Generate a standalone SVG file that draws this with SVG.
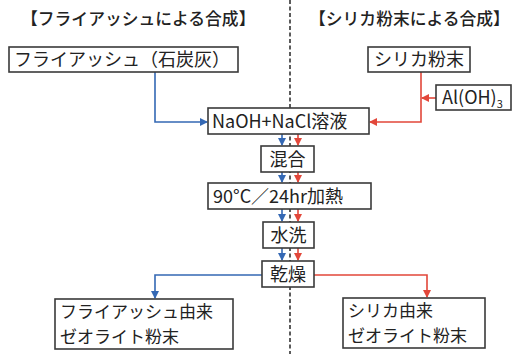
<svg xmlns="http://www.w3.org/2000/svg" width="517" height="354" viewBox="0 0 517 354">
<style>
  .box { fill: #ffffff; stroke: #3a3a3a; stroke-width: 1.6; }
  .t { font-family: "Noto Sans CJK JP", "Noto Sans", sans-serif; font-size: 18px; fill: #222; }
  .t2 { font-family: "Noto Sans CJK JP", "Noto Sans", sans-serif; font-size: 17px; fill: #222; }
  .title { font-family: "Noto Sans CJK JP", "Noto Sans", sans-serif; font-size: 16.8px; fill: #222; font-weight: 500; }
  .blue { fill: none; stroke: #3468b4; stroke-width: 1.6; }
  .red { fill: none; stroke: #e2473a; stroke-width: 1.6; }
  .divider { stroke: #333; stroke-width: 1.6; stroke-dasharray: 4 2.5; fill: none; }
</style>
<defs>
  <marker id="ab" markerWidth="8" markerHeight="8" refX="7" refY="4" orient="auto" markerUnits="userSpaceOnUse">
    <path d="M0,0 L8,4 L0,8 Z" fill="#3468b4"/>
  </marker>
  <marker id="ar" markerWidth="8" markerHeight="8" refX="7" refY="4" orient="auto" markerUnits="userSpaceOnUse">
    <path d="M0,0 L8,4 L0,8 Z" fill="#e2473a"/>
  </marker>
</defs>
<rect width="517" height="354" fill="#ffffff"/>

<line class="divider" x1="290" y1="0" x2="290" y2="354"/>

<text class="title" x="21" y="25">【フライアッシュによる合成】</text>
<text class="title" x="309" y="25">【シリカ粉末による合成】</text>

<g id="connectors">
  <path class="blue" d="M155,72 V122 H207" marker-end="url(#ab)"/>
  <path class="red" d="M421,72 V122 H370" marker-end="url(#ar)"/>
  <path class="red" d="M436,98 H422" marker-end="url(#ar)"/>
  <path class="blue" d="M282,134 V145" marker-end="url(#ab)"/>
  <path class="red" d="M298,134 V145" marker-end="url(#ar)"/>
  <path class="blue" d="M282,172 V182" marker-end="url(#ab)"/>
  <path class="red" d="M298,172 V182" marker-end="url(#ar)"/>
  <path class="blue" d="M282,209 V221" marker-end="url(#ab)"/>
  <path class="red" d="M298,209 V221" marker-end="url(#ar)"/>
  <path class="blue" d="M282,248 V260" marker-end="url(#ab)"/>
  <path class="red" d="M298,248 V260" marker-end="url(#ar)"/>
  <path class="blue" d="M262,275 H155 V298" marker-end="url(#ab)"/>
  <path class="red" d="M314,275 H427 V297" marker-end="url(#ar)"/>
</g>

<g id="flyash">
  <rect class="box" x="9" y="47" width="229" height="25"/>
  <text class="t" x="14" y="66">フライアッシュ（石炭灰）</text>
</g>
<g id="silica">
  <rect class="box" x="368" y="47" width="102" height="25"/>
  <text class="t" x="374" y="66">シリカ粉末</text>
</g>
<g id="aloh">
  <rect class="box" x="436" y="85" width="75" height="25"/>
  <text class="t" x="442" y="104">Al(OH)<tspan font-size="11" dy="4">3</tspan></text>
</g>
<g id="naoh">
  <rect class="box" x="208" y="108" width="161" height="26"/>
  <text class="t" x="212" y="127.5">NaOH+NaCl溶液</text>
</g>
<g id="mix">
  <rect class="box" x="261" y="146" width="53" height="26"/>
  <text class="t" x="269.5" y="165.5">混合</text>
</g>
<g id="heat">
  <rect class="box" x="208" y="183" width="163" height="26"/>
  <text class="t" x="213" y="202.5">90°C／24hr加熱</text>
</g>
<g id="wash">
  <rect class="box" x="263" y="222" width="51" height="26"/>
  <text class="t" x="270.5" y="241.5">水洗</text>
</g>
<g id="dry">
  <rect class="box" x="262" y="261" width="52" height="26"/>
  <text class="t" x="270" y="280.5">乾燥</text>
</g>
<g id="out-flyash">
  <rect class="box" x="55" y="299" width="178" height="50"/>
  <text class="t2"><tspan x="60" y="318">フライアッシュ由来</tspan><tspan x="60" y="343">ゼオライト粉末</tspan></text>
</g>
<g id="out-silica">
  <rect class="box" x="343" y="298" width="142" height="50"/>
  <text class="t2"><tspan x="348" y="317">シリカ由来</tspan><tspan x="348" y="342">ゼオライト粉末</tspan></text>
</g>
</svg>
